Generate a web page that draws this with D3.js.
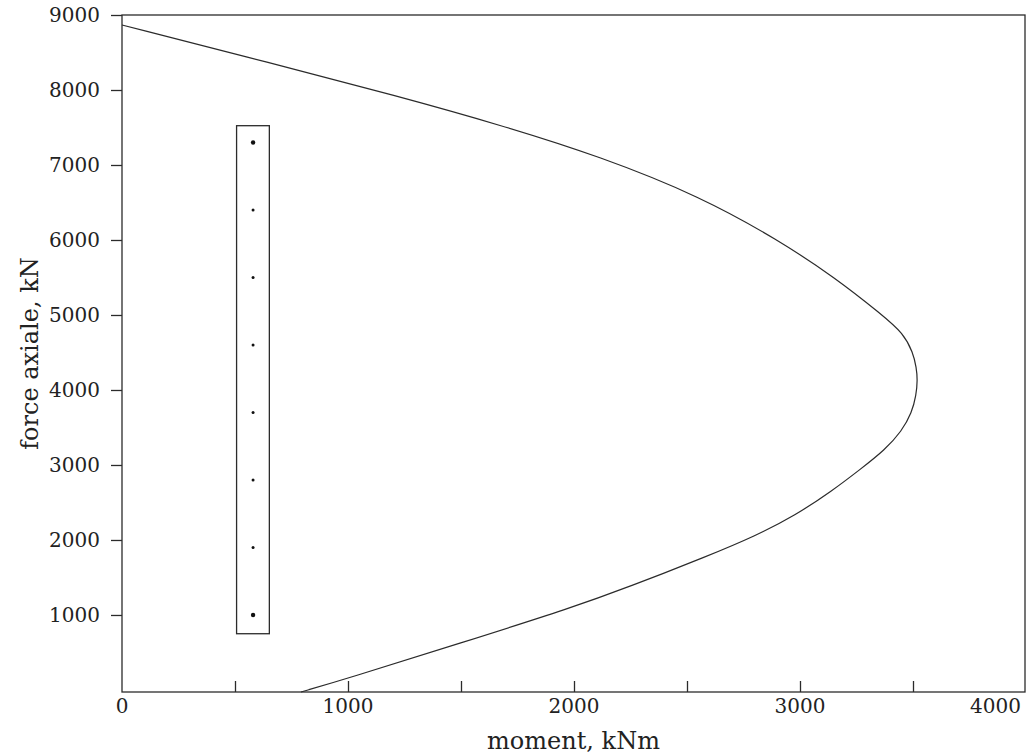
<!DOCTYPE html>
<html>
<head>
<meta charset="utf-8">
<script src="https://cdn.jsdelivr.net/npm/d3@7"></script>
<style>
  html, body { margin: 0; padding: 0; background: #fff; }
  svg text { font-family: "DejaVu Serif", serif; fill: #222; }
</style>
</head>
<body>
<svg id="chart" width="1026" height="754"></svg>
<script>
// Interaction diagram: axial force vs bending moment
const curveMoment = [0, 0, 664, 1218, 1675, 2118, 2560, 2904, 3154, 3364, 3457, 3500, 3515, 3520, 3514, 3495, 3450, 3375, 3270, 3140, 2980, 2800, 2595, 2246, 1996, 1494, 1000, 792, 792];
const curveForce  = [8867, 8867, 8356, 7920, 7533, 7111, 6578, 6000, 5500, 5000, 4756, 4500, 4300, 4133, 3930, 3700, 3450, 3200, 2950, 2650, 2330, 2050, 1790, 1378, 1102, 622, 156, -27, -27];

// Load cases
const loadMoment = [580, 580, 580, 580, 580, 580, 580, 580];
const loadForce  = [7300, 6400, 5500, 4600, 3700, 2800, 1900, 1000];

// Envelope box around the load cases
const boxMoment = [507, 652];
const boxForce  = [750, 7524];

const xTicksMajor = [0, 1000, 2000, 3000, 4000];
const xTicksMinor = [500, 1000, 1500, 2000, 2500, 3000, 3500];
const yTicks = [1000, 2000, 3000, 4000, 5000, 6000, 7000, 8000, 9000];

const svg = d3.select("#chart");
const plotLeft = 122, plotRight = 1025, plotTop = 15, plotBottom = 692;

const x = d3.scaleLinear().domain([0, 4000]).range([plotLeft, plotRight + 1]);
const y = d3.scaleLinear().domain([-27, 9000]).range([plotBottom, plotTop]);

const ink = "#2b2b2b";

// Frame
svg.append("rect")
  .attr("x", plotLeft).attr("y", plotTop)
  .attr("width", plotRight - plotLeft).attr("height", plotBottom - plotTop)
  .attr("fill", "none").attr("stroke", ink).attr("stroke-width", 1.3);

// Bottom axis: inward ticks every 500, labels every 1000
svg.append("g")
  .attr("transform", `translate(0,${plotBottom})`)
  .call(d3.axisTop(x).tickValues(xTicksMinor).tickSize(11).tickFormat(""))
  .call(g => g.select(".domain").remove())
  .call(g => g.selectAll("line").attr("stroke", ink).attr("stroke-width", 1.3));

const lastTick = xTicksMajor[xTicksMajor.length - 1];
svg.append("g")
  .selectAll("text")
  .data(xTicksMajor)
  .join("text")
  .attr("x", d => d === lastTick ? plotRight - 4 : x(d))
  .attr("y", plotBottom + 21)
  .attr("text-anchor", d => d === lastTick ? "end" : "middle")
  .attr("font-size", 20)
  .text(d => d);

// Left axis: outward ticks
svg.append("g")
  .attr("transform", `translate(${plotLeft},0)`)
  .call(d3.axisLeft(y).tickValues(yTicks).tickSize(11).tickPadding(11).tickFormat(d3.format("d")))
  .call(g => g.select(".domain").remove())
  .call(g => g.selectAll("line").attr("stroke", ink).attr("stroke-width", 1.3))
  .call(g => g.selectAll("text")
    .attr("font-family", "DejaVu Serif, serif")
    .attr("font-size", 20)
    .attr("fill", "#222"));

// Axis titles
svg.append("text")
  .attr("x", (plotLeft + plotRight) / 2)
  .attr("y", 749)
  .attr("text-anchor", "middle")
  .attr("font-size", 24)
  .text("moment, kNm");

svg.append("text")
  .attr("transform", `translate(38,${(plotTop + plotBottom) / 2}) rotate(-90)`)
  .attr("text-anchor", "middle")
  .attr("font-size", 24)
  .text("force axiale, kN");

// Interaction curve (smoothed B-spline through the sampled envelope)
const pts = curveMoment.map((m, i) => [m, curveForce[i]]);
svg.append("path")
  .datum(pts)
  .attr("fill", "none")
  .attr("stroke", ink)
  .attr("stroke-width", 1.2)
  .attr("d", d3.line().x(d => x(d[0])).y(d => y(d[1])).curve(d3.curveBasis));

// Envelope box
svg.append("rect")
  .attr("x", x(boxMoment[0])).attr("y", y(boxForce[1]))
  .attr("width", x(boxMoment[1]) - x(boxMoment[0]))
  .attr("height", y(boxForce[0]) - y(boxForce[1]))
  .attr("fill", "none").attr("stroke", ink).attr("stroke-width", 1.3);

// Load case points (first and last drawn slightly larger)
svg.append("g")
  .selectAll("circle")
  .data(loadMoment.map((m, i) => [m, loadForce[i], i]))
  .join("circle")
  .attr("cx", d => x(d[0]))
  .attr("cy", d => y(d[1]))
  .attr("r", d => (d[2] === 0 || d[2] === loadMoment.length - 1) ? 2.2 : 1.5)
  .attr("fill", "#111");
</script>
</body>
</html>
